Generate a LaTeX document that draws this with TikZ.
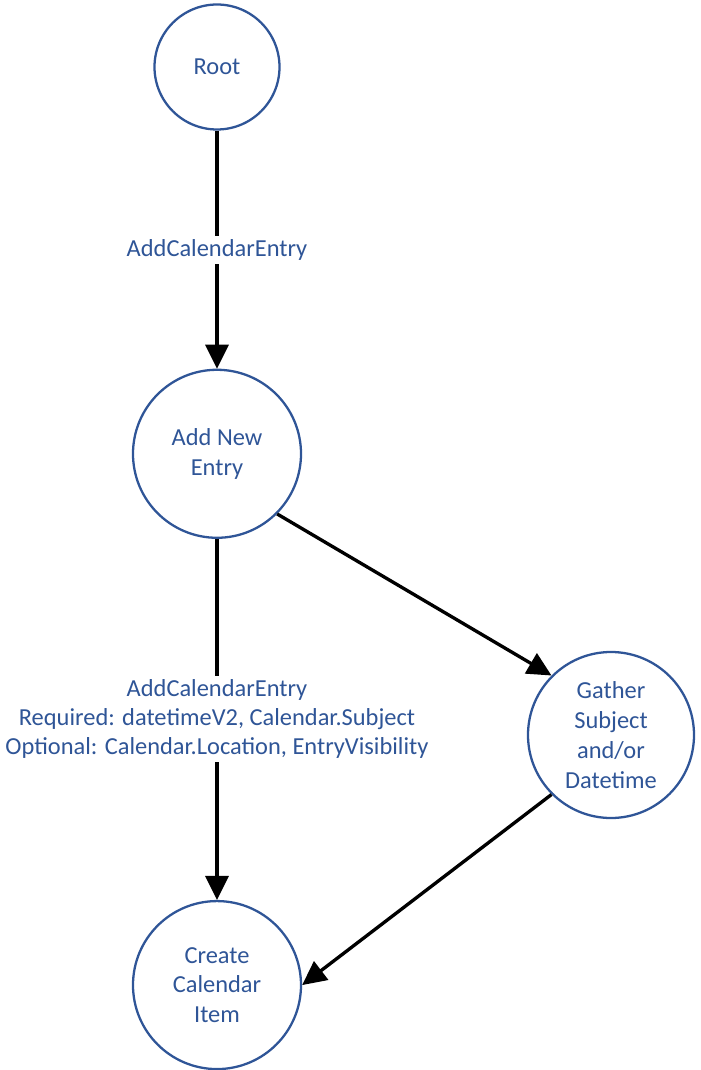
\documentclass[tikz,border=0pt]{standalone}
\usepackage{fontspec}
\setmainfont{Carlito}
\usepackage{tikz}
\definecolor{nodeblue}{RGB}{47,85,151}
\usetikzlibrary{arrows.meta, shapes, positioning}
\tikzset{
  statenode/.style={circle, draw=nodeblue, line width=1.3pt, inner sep=0pt, text=nodeblue, align=center, font=\fontsize{13.9}{17}\selectfont},
  arrow/.style={line width=1.9pt, black, -{Triangle[length=4.8mm, width=4.6mm]}},
  edgelabel/.style={fill=white, text=nodeblue, align=center, inner sep=2pt, font=\fontsize{13.9}{16.5}\selectfont}
}

\begin{document}
\begin{tikzpicture}
  \useasboundingbox (-4.34,1.34) rectangle (9.66,-20.06);

  % Root node
  \node (root) [statenode, minimum size=2.5cm] at (0,0) {Root};

  % Add entry
  \node (addnew) [statenode, minimum size=3.36cm, below=4.76cm of root] {Add New\\Entry};

  % Gather step and final node
  \node (gather) [statenode, minimum size=3.32cm] at (7.88,-13.36) {Gather\\Subject\\and/or\\Datetime};
  \node (create) [statenode, minimum size=3.36cm, below=7.22cm of addnew] {Create\\Calendar\\Item};

  % Connections
  \draw [arrow] (root) -- node[edgelabel] {AddCalendarEntry} (addnew);
  \draw [arrow] (addnew) -- node[edgelabel] {AddCalendarEntry\\Required: datetimeV2, Calendar.Subject\\Optional: Calendar.Location, EntryVisibility} (create);
  \draw [arrow] (addnew.-45) -- (gather.135);
  \draw [arrow] (gather.225) -- (create.east);
\end{tikzpicture}
\end{document}
